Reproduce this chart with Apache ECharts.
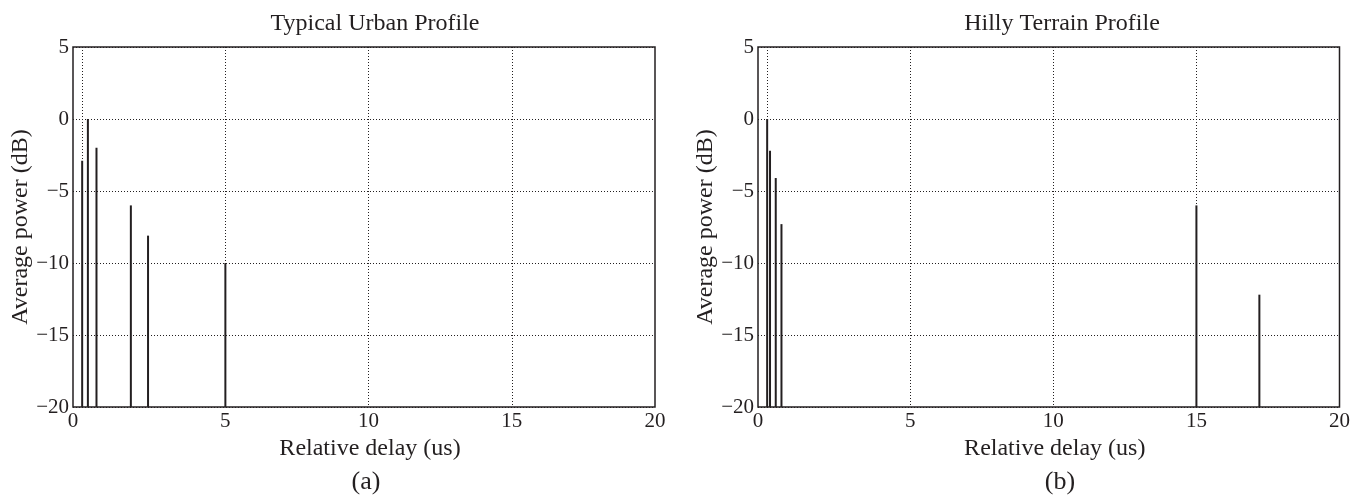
<!DOCTYPE html>
<html>
<head>
<meta charset="utf-8">
<script src="https://cdn.jsdelivr.net/npm/echarts@6/dist/echarts.min.js"></script>
<style>
  html, body { margin: 0; padding: 0; background: #fff; }
  #graph { width: 1353px; height: 497px; }
</style>
</head>
<body>
<div id="graph"></div>
<script>
// Typical Urban profile (delay in us, power in dB)
var tuDelay = [0, 0.2, 0.5, 1.7, 2.3, 5.0];
var tuPower = [-2.9, 0, -2, -6, -8.1, -10];
// Hilly Terrain profile
var htDelay = [0, 0.1, 0.3, 0.5, 15, 17.2];
var htPower = [0, -2.2, -4.1, -7.3, -6, -12.2];

var xTicks = [0, 5, 10, 15];
var xLabels = [-0.32, 5, 10, 15, 20]; // the "0" label sits on the left frame
var yMin = -20, yMax = 5, yStep = 5;

var ink = '#231f20';
var font = 'Liberation Serif';

function pairs(xs, ys) {
    var out = [];
    for (var i = 0; i < xs.length; i++) out.push([xs[i], ys[i]]);
    return out;
}

// 竖线：从 -20 画到数值
function stem(params, api) {
    var top = api.coord([api.value(0), api.value(1)]);
    var base = api.coord([api.value(0), yMin]);
    return {
        type: 'line',
        shape: { x1: top[0], y1: top[1], x2: base[0], y2: base[1] },
        style: { stroke: ink, lineWidth: 2 }
    };
}

function xAxisCfg(idx) {
    return {
        type: 'value',
        gridIndex: idx,
        min: -0.32,
        max: 20,
        name: 'Relative delay (us)',
        nameLocation: 'middle',
        nameGap: 26,
        nameTextStyle: { fontFamily: font, fontSize: 24, color: ink, padding: [0, 0, 0, 12] },
        axisLine: { show: false },
        axisTick: { show: false, customValues: xTicks },
        axisLabel: {
            customValues: xLabels,
            margin: 4,
            fontFamily: font, fontSize: 21, color: ink,
            formatter: function (v) { return String(Math.max(0, Math.round(v))); }
        },
        splitLine: { show: true, lineStyle: { color: ink, type: [1, 2], width: 1 } }
    };
}

function yAxisCfg(idx) {
    return {
        type: 'value',
        gridIndex: idx,
        min: yMin,
        max: yMax,
        interval: yStep,
        name: 'Average power (dB)',
        nameLocation: 'middle',
        nameGap: 36,
        nameTextStyle: { fontFamily: font, fontSize: 24, color: ink },
        axisLine: { show: false },
        axisTick: { show: false },
        axisLabel: {
            margin: 4,
            fontFamily: font, fontSize: 21, color: ink,
            formatter: function (v) { return String(v).replace('-', '\u2212'); }
        },
        splitLine: { show: true, lineStyle: { color: ink, type: [1, 2], width: 1 } }
    };
}

var myChart = echarts.init(document.getElementById('graph'));
var option = {
    backgroundColor: '#fff',
    animation: false,
    title: [
        { text: 'Typical Urban Profile', left: 370, top: 7, textAlign: 'center',
          textStyle: { fontFamily: font, fontSize: 24, fontWeight: 'normal', color: ink } },
        { text: 'Hilly Terrain Profile', left: 1057, top: 7, textAlign: 'center',
          textStyle: { fontFamily: font, fontSize: 24, fontWeight: 'normal', color: ink } }
    ],
    grid: [
        { left: 73, right: 698, top: 47, bottom: 90, show: true, borderColor: ink, borderWidth: 1.5 },
        { left: 758, right: 11, top: 47, bottom: 90, show: true, borderColor: ink, borderWidth: 1.5 }
    ],
    xAxis: [xAxisCfg(0), xAxisCfg(1)],
    yAxis: [yAxisCfg(0), yAxisCfg(1)],
    graphic: [
        { type: 'text', x: 366, y: 482,
          style: { text: '(a)', font: '26px "Liberation Serif"', fill: ink, align: 'center', verticalAlign: 'middle' } },
        { type: 'text', x: 1060, y: 482,
          style: { text: '(b)', font: '26px "Liberation Serif"', fill: ink, align: 'center', verticalAlign: 'middle' } }
    ],
    series: [
        { type: 'custom', xAxisIndex: 0, yAxisIndex: 0, renderItem: stem,
          data: pairs(tuDelay, tuPower), z: 5 },
        { type: 'custom', xAxisIndex: 1, yAxisIndex: 1, renderItem: stem,
          data: pairs(htDelay, htPower), z: 5 }
    ]
};
myChart.setOption(option);
</script>
</body>
</html>
